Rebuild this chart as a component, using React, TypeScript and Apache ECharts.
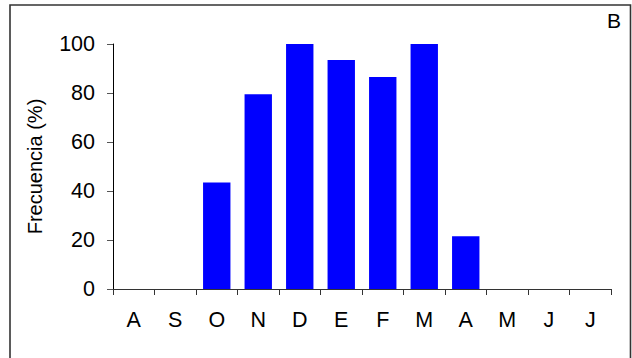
import React, { useEffect, useRef } from "react";
import * as echarts from "echarts";

const months = ["A", "S", "O", "N", "D", "E", "F", "M", "A", "M", "J", "J"];
const frequency = [0, 0, 43.5, 79.5, 100, 93.5, 86.5, 100, 21.5, 0, 0, 0];
const yTicks = [0, 20, 40, 60, 80, 100];
const yTitle = "Frecuencia (%)";
const panelLabel = "B";

export default function App() {
  const ref = useRef<HTMLDivElement>(null);
  useEffect(() => {
    if (!ref.current) return;
    const chart = echarts.init(ref.current, undefined, { renderer: "svg" });
    const font = "Liberation Sans, Arial, sans-serif";
    chart.setOption({
      animation: false,
      backgroundColor: "#ffffff",
      grid: { left: 113, right: 21, top: 44, bottom: 69 },
      graphic: [
        {
          type: "rect",
          shape: { x: 10, y: 5, width: 620.5, height: 380 },
          style: { fill: "none", stroke: "#333333", lineWidth: 1.6 },
          silent: true,
        },
        {
          type: "text",
          right: 11,
          top: 10,
          style: { text: panelLabel, font: `21px ${font}`, fill: "#000" },
        },
      ],
      xAxis: {
        type: "category",
        data: months,
        boundaryGap: true,
        axisLine: { lineStyle: { color: "#333", width: 1 } },
        axisTick: { show: true, length: 6, inside: false, lineStyle: { color: "#333" } },
        axisLabel: { color: "#000", fontSize: 21.5, fontFamily: font, margin: 20, interval: 0 },
        splitLine: { show: false },
      },
      yAxis: {
        type: "value",
        min: yTicks[0],
        max: yTicks[yTicks.length - 1],
        interval: 20,
        name: yTitle,
        nameLocation: "middle",
        nameGap: 68,
        nameRotate: 90,
        nameTextStyle: { color: "#000", fontSize: 20, fontFamily: font },
        axisLine: { show: true, lineStyle: { color: "#000", width: 1 } },
        axisTick: { show: true, length: 6, lineStyle: { color: "#555" } },
        axisLabel: { color: "#000", fontSize: 21.5, fontFamily: font, margin: 18 },
        splitLine: { show: false },
      },
      series: [
        {
          type: "bar",
          data: frequency,
          barCategoryGap: "34%",
          itemStyle: { color: "#0000ff" },
        },
      ],
    });
    return () => chart.dispose();
  }, []);
  return (
    <div
      ref={ref}
      style={{ position: "fixed", left: 0, top: 0, width: 632, height: 358 }}
    />
  );
}
